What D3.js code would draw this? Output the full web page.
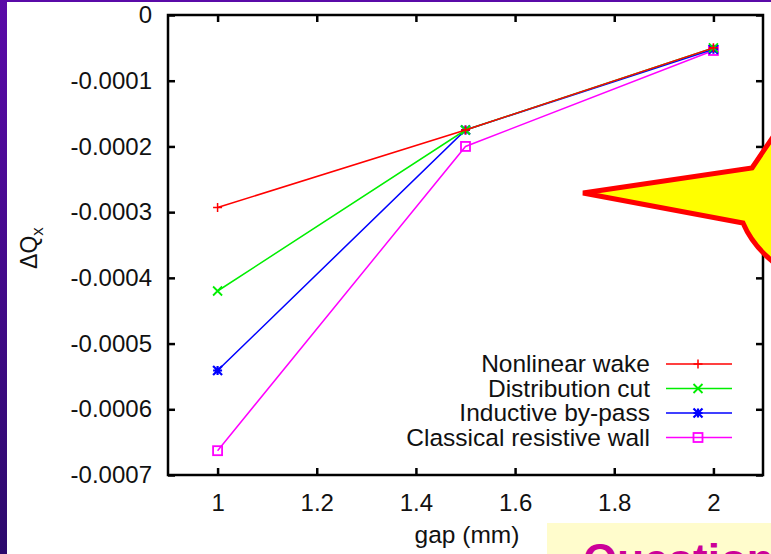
<!DOCTYPE html>
<html>
<head>
<meta charset="utf-8">
<script src="https://cdn.jsdelivr.net/npm/d3@7"></script>
<style>
  html, body { margin: 0; padding: 0; background: #fff; }
  svg { display: block; font-family: "Liberation Sans", Arial, sans-serif; }
</style>
</head>
<body>
<div id="chart"></div>
<script>
// data
const gaps = [1, 1.5, 2];
const nonlinearWake = [-0.000293, -0.000175, -0.00005];
const distributionCut = [-0.00042, -0.000175, -0.00005];
const inductiveBypass = [-0.000541, -0.000175, -0.000052];
const classicalWall = [-0.000663, -0.0002, -0.000054];

const seriesNames = ['Nonlinear wake', 'Distribution cut', 'Inductive by-pass', 'Classical resistive wall'];
const seriesColors = ['#ff0000', '#00ee00', '#0000ff', '#ff00ff'];
const seriesMarkers = ['plus', 'cross', 'star', 'square'];

const xTicks = [1, 1.2, 1.4, 1.6, 1.8, 2];
const yTicks = [0, -0.0001, -0.0002, -0.0003, -0.0004, -0.0005, -0.0006, -0.0007];

const W = 771, H = 554;
const margin = [15, 79, 168, 8]; // top, bottom, left, right

const svg = d3.select('#chart').append('svg')
    .attr('width', W)
    .attr('height', H);

// slide background bits
const defs = svg.append('defs');
const grad = defs.append('linearGradient').attr('id', 'purple')
    .attr('x1', 0).attr('y1', 0).attr('x2', 0).attr('y2', 1);
grad.append('stop').attr('offset', '0%').attr('stop-color', '#5a0aa8');
grad.append('stop').attr('offset', '100%').attr('stop-color', '#2c0a6c');

svg.append('rect').attr('x', 0).attr('y', 0).attr('width', 7).attr('height', H).attr('fill', 'url(#purple)');
svg.append('rect').attr('x', 0).attr('y', 0).attr('width', W).attr('height', 2).attr('fill', '#5a0aa8');

const x = d3.scaleLinear().domain([0.9, 2.1]).range([margin[2], W - margin[3]]);
const y = d3.scaleLinear().domain([-0.0007, 0]).range([H - margin[1], margin[0]]);

const fmtY = d => d === 0 ? '0' : d3.format('.4f')(d).replace('−', '-');

// axes (ticks inside, mirrored)
const tickLen = 7;
svg.append('g')
    .attr('transform', `translate(0, ${y(-0.0007)})`)
    .call(d3.axisBottom(x).tickValues(xTicks).tickSize(-tickLen).tickPadding(tickLen + 12).tickFormat(d3.format('')))
    .call(g => g.select('.domain').remove());
svg.append('g')
    .attr('transform', `translate(0, ${y(0)})`)
    .call(d3.axisTop(x).tickValues(xTicks).tickSize(-tickLen).tickFormat(''))
    .call(g => g.select('.domain').remove());
svg.append('g')
    .attr('transform', `translate(${x(0.9)}, 0)`)
    .call(d3.axisLeft(y).tickValues(yTicks).tickSize(-tickLen).tickPadding(tickLen + 9).tickFormat(fmtY))
    .call(g => g.select('.domain').remove());
svg.append('g')
    .attr('transform', `translate(${x(2.1)}, 0)`)
    .call(d3.axisRight(y).tickValues(yTicks).tickSize(-tickLen).tickFormat(''))
    .call(g => g.select('.domain').remove());

svg.selectAll('.tick line').attr('stroke', '#000').attr('stroke-width', 2.5);
svg.selectAll('.tick text')
    .attr('fill', '#111')
    .style('font-size', '24px')
    .style('font-family', '"Liberation Sans", Arial, sans-serif');

svg.append('rect')
    .attr('x', x(0.9)).attr('y', y(0))
    .attr('width', x(2.1) - x(0.9)).attr('height', y(-0.0007) - y(0))
    .attr('fill', 'none').attr('stroke', '#000').attr('stroke-width', 2.5);

// axis labels
svg.append('text')
    .attr('x', 467).attr('y', 543)
    .attr('text-anchor', 'middle')
    .style('font-size', '24.5px')
    .attr('fill', '#111')
    .text('gap (mm)');

const yl = svg.append('text')
    .attr('transform', 'translate(37, 248) rotate(-90)')
    .attr('text-anchor', 'middle')
    .style('font-size', '23px')
    .attr('fill', '#111');
yl.append('tspan').text('ΔQ');
yl.append('tspan').attr('dy', 6).style('font-size', '17px').text('x');

// markers
function drawMarker(g, type, color, s) {
    if (type === 'plus') {
        g.append('path').attr('d', `M${-s},0H${s}M0,${-s}V${s}`).attr('stroke', color).attr('stroke-width', 1.5);
    } else if (type === 'cross') {
        g.append('path').attr('d', `M${-s},${-s}L${s},${s}M${-s},${s}L${s},${-s}`).attr('stroke', color).attr('stroke-width', 1.8);
    } else if (type === 'star') {
        g.append('path').attr('d', `M${-s},${-s}L${s},${s}M${-s},${s}L${s},${-s}M${-s},0H${s}M0,${-s}V${s}`)
            .attr('stroke', color).attr('stroke-width', 2.2);
    } else {
        g.append('rect').attr('x', -s).attr('y', -s).attr('width', 2 * s).attr('height', 2 * s)
            .attr('fill', 'none').attr('stroke', color).attr('stroke-width', 1.8);
    }
}

const allSeries = [nonlinearWake, distributionCut, inductiveBypass, classicalWall];
const line = d3.line().x(d => x(d[0])).y(d => y(d[1]));

// draw back to front so red sits on top at the shared points
[3, 2, 1, 0].forEach(i => {
    const pts = gaps.map((g, j) => [g, allSeries[i][j]]);
    svg.append('path')
        .datum(pts)
        .attr('d', line)
        .attr('fill', 'none')
        .attr('stroke', seriesColors[i])
        .attr('stroke-width', 1.5);
    pts.forEach(p => {
        const m = svg.append('g').attr('transform', `translate(${x(p[0])}, ${y(p[1])})`);
        drawMarker(m, seriesMarkers[i], seriesColors[i], 4.5);
    });
});

// legend
const legend = svg.append('g');
seriesNames.forEach((name, i) => {
    const ly = 364 + i * 24.5;
    legend.append('text')
        .attr('x', 650).attr('y', ly + 8)
        .attr('text-anchor', 'end')
        .style('font-size', '24.5px')
        .attr('fill', '#111')
        .text(name);
    legend.append('line')
        .attr('x1', 666).attr('x2', 732)
        .attr('y1', ly).attr('y2', ly)
        .attr('stroke', seriesColors[i]).attr('stroke-width', 1.5);
    const m = legend.append('g').attr('transform', `translate(698, ${ly})`);
    drawMarker(m, seriesMarkers[i], seriesColors[i], 4.5);
});

// callout star poking in from the right
svg.append('path')
    .attr('d', 'M583,193 L752,168 Q760,156 775,134 L800,120 L800,290 L771,260 Q752,244 743,223 Z')
    .attr('fill', '#ffff00')
    .attr('stroke', '#ff0000')
    .attr('stroke-width', 5)
    .attr('stroke-linejoin', 'miter');

// yellow note box at the bottom right
svg.append('rect')
    .attr('x', 547).attr('y', 523)
    .attr('width', W - 547).attr('height', H - 523)
    .attr('fill', '#fffccc');
svg.append('text')
    .attr('x', 583).attr('y', 575)
    .style('font-size', '44px')
    .style('font-weight', 'bold')
    .attr('fill', '#cc0099')
    .text('Questions');
</script>
</body>
</html>
